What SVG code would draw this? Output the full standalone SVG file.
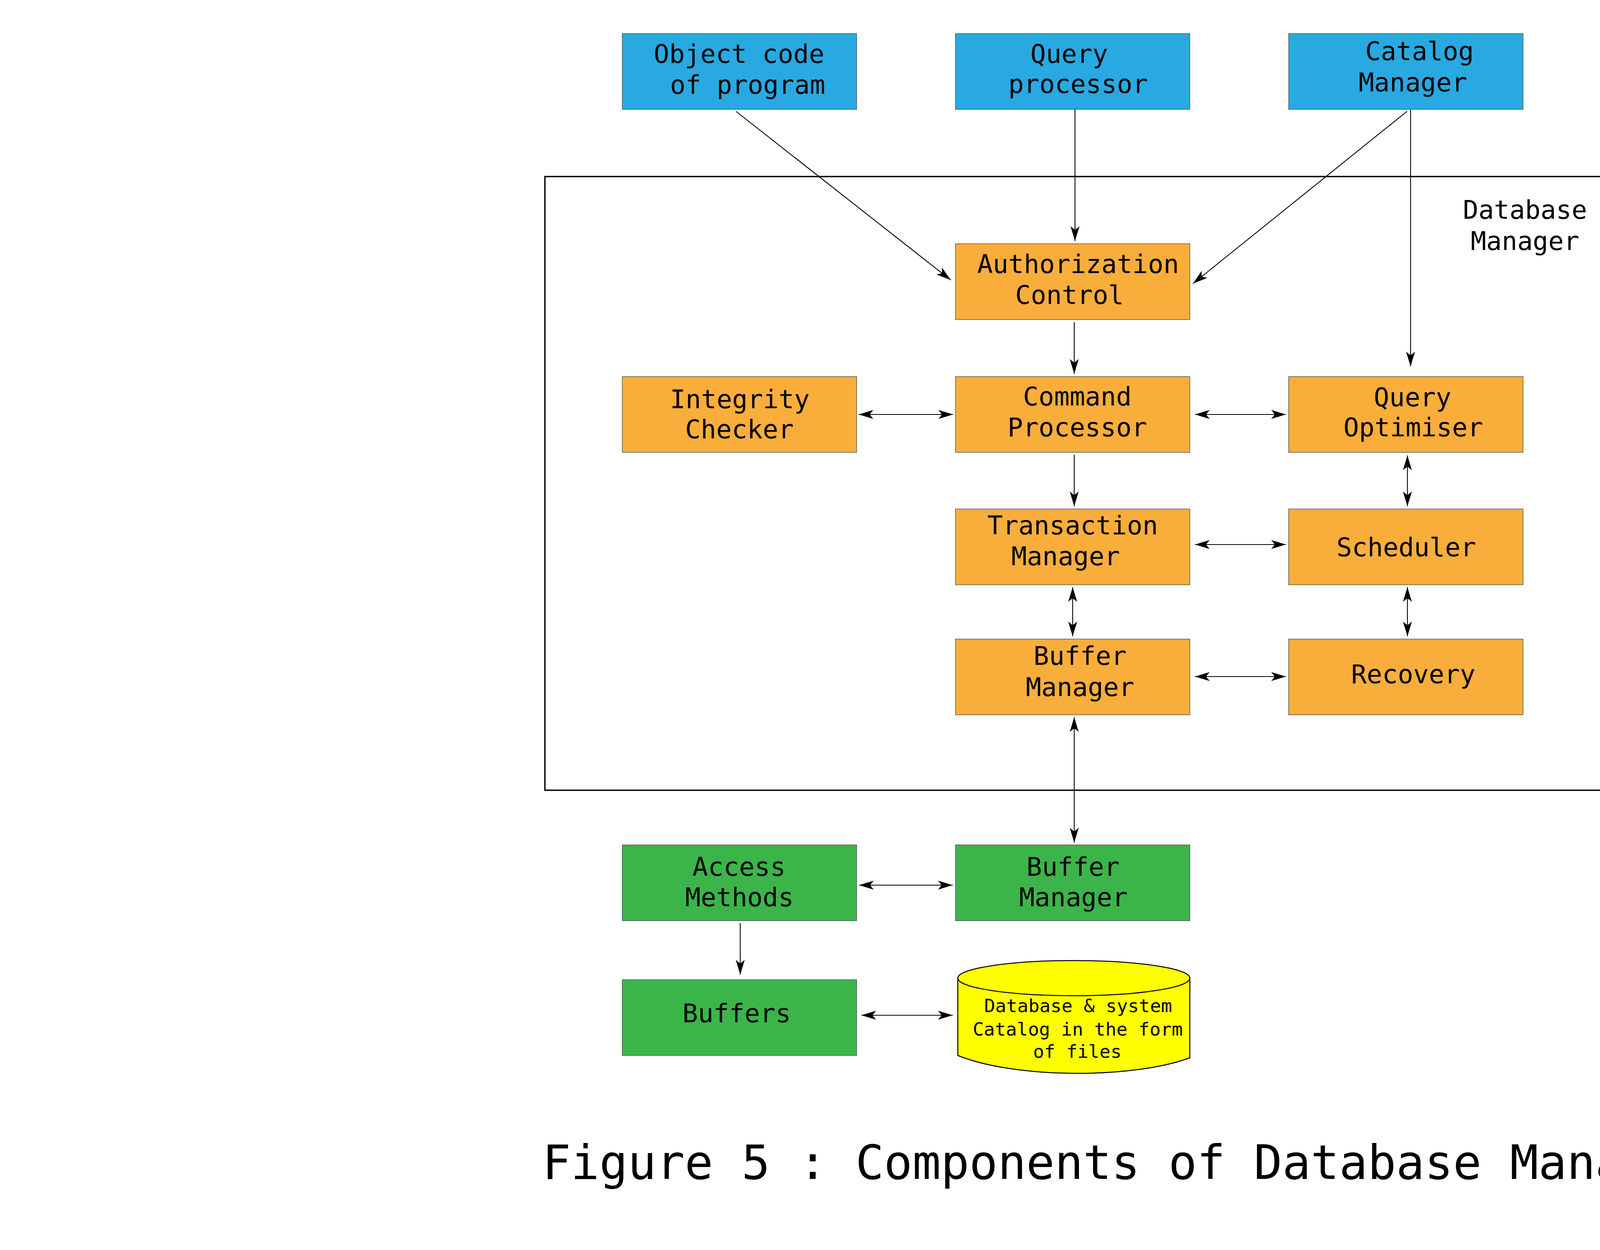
<svg xmlns="http://www.w3.org/2000/svg" width="5692" height="3200" viewBox="0 0 5692 3200">
<style>
.blue{fill:#29A9E1;stroke:#555;stroke-width:1.5}
.orange{fill:#F9AE3B;stroke:#555;stroke-width:1.5}
.green{fill:#3BB54A;stroke:#555;stroke-width:1.5}
.lbl{font-family:"DejaVu Sans Mono","Liberation Mono",monospace;font-size:66px;fill:#000;text-anchor:middle}
.small{font-size:47px}
.title{font-family:"DejaVu Sans Mono","Liberation Mono",monospace;font-size:121px;fill:#000;text-anchor:middle}
.c{fill:none;stroke:#000;stroke-width:2.2}
.one{marker-end:url(#ah)}
.two{marker-start:url(#ah);marker-end:url(#ah)}
</style>
<defs>
<marker id="ah" viewBox="-40 -13 42 26" markerWidth="42" markerHeight="26" refX="0" refY="0" markerUnits="userSpaceOnUse" orient="auto-start-reverse">
<path d="M0,0 L-38,-11.5 Q-31,-4 -29,0 Q-31,4 -38,11.5 Z" fill="#000"/>
</marker>
</defs>
<rect width="5692" height="3200" fill="#fff"/>
<g id="frame">
<rect x="1395" y="452" width="2725" height="1571" fill="none" stroke="#000" stroke-width="3.5"/>
<text class="lbl"><tspan x="3904" y="560">Database</tspan><tspan x="3904" y="640">Manager</tspan></text>
</g>
<g id="connectors">
<path class="c one" d="M1884,285 L2434,717"/>
<path class="c one" d="M2752,280 L2752,617"/>
<path class="c one" d="M3602,285 L3054,726"/>
<path class="c one" d="M3611,280 L3611,938"/>
<path class="c one" d="M2750,825 L2750,957"/>
<path class="c two" d="M2198,1061 L2440,1061"/>
<path class="c two" d="M3059,1061 L3292,1061"/>
<path class="c one" d="M2750,1164 L2750,1296"/>
<path class="c two" d="M3603,1166 L3603,1296"/>
<path class="c two" d="M3059,1394 L3292,1394"/>
<path class="c two" d="M2746,1503 L2746,1629"/>
<path class="c two" d="M3603,1503 L3603,1629"/>
<path class="c two" d="M3059,1732 L3292,1732"/>
<path class="c two" d="M2750,1836 L2750,2157"/>
<path class="c two" d="M2199,2266 L2439,2266"/>
<path class="c one" d="M1895,2363 L1895,2495"/>
<path class="c two" d="M2205,2599 L2439,2599"/>
</g>
<g id="object-code">
<rect class="blue" x="1593" y="86" width="600" height="194"/>
<text class="lbl"><tspan x="1892" y="161">Object code</tspan><tspan x="1914" y="240">of program</tspan></text>
</g>
<g id="query-processor">
<rect class="blue" x="2446" y="86" width="600" height="194"/>
<text class="lbl"><tspan x="2737" y="161">Query</tspan><tspan x="2760" y="238">processor</tspan></text>
</g>
<g id="catalog-manager">
<rect class="blue" x="3299" y="86" width="600" height="194"/>
<text class="lbl"><tspan x="3634" y="154">Catalog</tspan><tspan x="3617" y="234">Manager</tspan></text>
</g>
<g id="authorization-control">
<rect class="orange" x="2446" y="624" width="600" height="194"/>
<text class="lbl"><tspan x="2760" y="699">Authorization</tspan><tspan x="2738" y="778">Control</tspan></text>
</g>
<g id="integrity-checker">
<rect class="orange" x="1593" y="964" width="600" height="194"/>
<text class="lbl"><tspan x="1894" y="1045">Integrity</tspan><tspan x="1893" y="1122">Checker</tspan></text>
</g>
<g id="command-processor">
<rect class="orange" x="2446" y="964" width="600" height="194"/>
<text class="lbl"><tspan x="2758" y="1038">Command</tspan><tspan x="2758" y="1117">Processor</tspan></text>
</g>
<g id="query-optimiser">
<rect class="orange" x="3299" y="964" width="600" height="194"/>
<text class="lbl"><tspan x="3616" y="1040">Query</tspan><tspan x="3618" y="1117">Optimiser</tspan></text>
</g>
<g id="transaction-manager">
<rect class="orange" x="2446" y="1303" width="600" height="194"/>
<text class="lbl"><tspan x="2746" y="1368">Transaction</tspan><tspan x="2728" y="1447">Manager</tspan></text>
</g>
<g id="scheduler">
<rect class="orange" x="3299" y="1303" width="600" height="194"/>
<text class="lbl" x="3600" y="1424">Scheduler</text>
</g>
<g id="buffer-manager">
<rect class="orange" x="2446" y="1636" width="600" height="194"/>
<text class="lbl"><tspan x="2765" y="1702">Buffer</tspan><tspan x="2765" y="1782">Manager</tspan></text>
</g>
<g id="recovery">
<rect class="orange" x="3299" y="1636" width="600" height="194"/>
<text class="lbl" x="3618" y="1749">Recovery</text>
</g>
<g id="access-methods">
<rect class="green" x="1593" y="2163" width="600" height="194"/>
<text class="lbl"><tspan x="1892" y="2242">Access</tspan><tspan x="1893" y="2320">Methods</tspan></text>
</g>
<g id="buffer-manager-2">
<rect class="green" x="2446" y="2163" width="600" height="194"/>
<text class="lbl"><tspan x="2747" y="2242">Buffer</tspan><tspan x="2748" y="2320">Manager</tspan></text>
</g>
<g id="buffers">
<rect class="green" x="1593" y="2508" width="600" height="194"/>
<text class="lbl" x="1886" y="2617">Buffers</text>
</g>
<g id="database-files">
<path d="M2452,2504 L2452,2702 C2600,2762 2900,2762 3046,2708 L3046,2504 Z" fill="#FFFF00" stroke="#000" stroke-width="2.5"/>
<ellipse cx="2749" cy="2504" rx="297" ry="45" fill="#FFFF00" stroke="#000" stroke-width="2.5"/>
<text class="lbl small"><tspan x="2760" y="2591">Database &amp; system</tspan><tspan x="2759" y="2651">Catalog in the form</tspan><tspan x="2758" y="2708">of files</tspan></text>
</g>
<g id="caption">
<text class="title" x="2882" y="3018">Figure 5 : Components of Database Manager</text>
</g>
</svg>
